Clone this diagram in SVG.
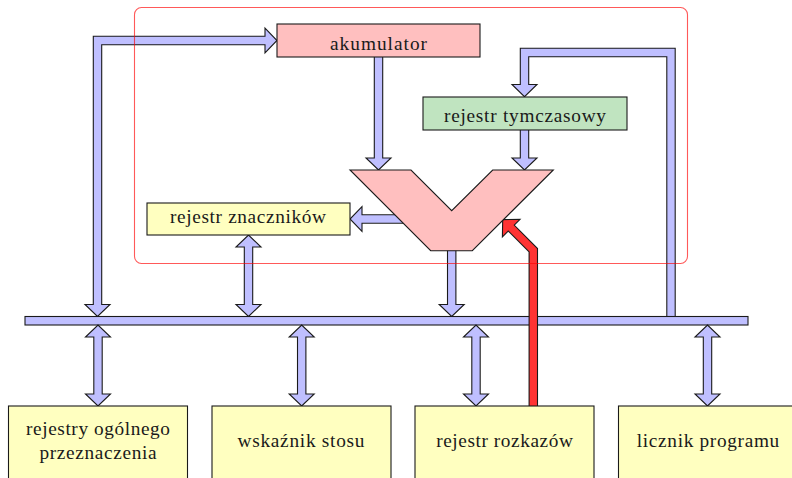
<svg xmlns="http://www.w3.org/2000/svg" width="792" height="478" viewBox="0 0 792 478">
<style>
.box{stroke:#1a1a1a;stroke-width:1.1}
.acc{fill:#ffbfbf}
.tmp{fill:#c0e4c0}
.yel{fill:#ffffc0}
.lbl{font-family:'Liberation Serif','Times New Roman',serif;font-size:19.3px;fill:#1a1a1a;text-anchor:middle}
.so{fill:none;stroke:#1a1a1a;stroke-width:9.5;stroke-linejoin:miter;stroke-linecap:butt}
.si{fill:none;stroke:#bfbfff;stroke-width:7.3;stroke-linejoin:miter;stroke-linecap:butt}
.sr{fill:none;stroke:#ff3333;stroke-width:7.3;stroke-linejoin:miter;stroke-linecap:butt}
.hd{fill:#bfbfff;stroke:#1a1a1a;stroke-width:1.1;stroke-linejoin:miter}
.hr{fill:#ff3333;stroke:#1a1a1a;stroke-width:1.1;stroke-linejoin:miter}
.frame{fill:none;stroke:#ff0000;stroke-opacity:0.65;stroke-width:1.1}
</style>

<g id="connectors">
  <path class="so" d="M97.5,304.5 V40.5 H265"/>
  <polygon class="hd" points="85,304.5 110,304.5 97.5,316.5"/>
  <polygon class="hd" points="265,28 265,53 277,40.5"/>
  <path class="si" d="M97.5,305.8 V40.5 H266.3"/>

  <path class="so" d="M378.5,57 V158"/>
  <polygon class="hd" points="366,158 391,158 378.5,170"/>
  <path class="si" d="M378.5,57 V159.3"/>

  <path class="so" d="M524.5,130 V158"/>
  <polygon class="hd" points="512,158 537,158 524.5,170"/>
  <path class="si" d="M524.5,130 V159.3"/>

  <path class="so" d="M671,317 V52.5 H524.5 V84.5"/>
  <polygon class="hd" points="512,84.5 537,84.5 524.5,96.7"/>
  <path class="si" d="M671,317 V52.5 H524.5 V85.8"/>

  <path class="so" d="M405,219 H362"/>
  <polygon class="hd" points="362,206.5 362,231.5 350,219"/>
  <path class="si" d="M405,219 H360.7"/>

  <path class="so" d="M248.5,247 V304.5"/>
  <polygon class="hd" points="236,247 261,247 248.5,235"/>
  <polygon class="hd" points="236,304.5 261,304.5 248.5,316.5"/>
  <path class="si" d="M248.5,245.7 V305.8"/>

  <path class="so" d="M451.7,250 V304.5"/>
  <polygon class="hd" points="439.2,304.5 464.2,304.5 451.7,316.5"/>
  <path class="si" d="M451.7,250 V305.8"/>

  <rect id="bus" x="25" y="316.5" width="723" height="8.5" fill="#bfbfff" stroke="#1a1a1a" stroke-width="1.1"/>

  <path class="so" d="M98,337 V394"/>
  <polygon class="hd" points="85.5,337 110.5,337 98,325"/>
  <polygon class="hd" points="85.5,394 110.5,394 98,406"/>
  <path class="si" d="M98,335.7 V395.3"/>

  <path class="so" d="M301.7,337 V394"/>
  <polygon class="hd" points="289.2,337 314.2,337 301.7,325"/>
  <polygon class="hd" points="289.2,394 314.2,394 301.7,406"/>
  <path class="si" d="M301.7,335.7 V395.3"/>

  <path class="so" d="M476,337 V394"/>
  <polygon class="hd" points="463.5,337 488.5,337 476,325"/>
  <polygon class="hd" points="463.5,394 488.5,394 476,406"/>
  <path class="si" d="M476,335.7 V395.3"/>

  <path class="so" d="M707.5,337 V394"/>
  <polygon class="hd" points="695,337 720,337 707.5,325"/>
  <polygon class="hd" points="695,394 720,394 707.5,406"/>
  <path class="si" d="M707.5,335.7 V395.3"/>

  <path class="so" d="M533.3,406 V250.2 L511.2,228.1"/>
  <polygon class="hr" points="520,219.3 502.4,236.9 502.7,219.6"/>
  <path class="sr" d="M533.3,406 V250.2 L510.3,227.2"/>
</g>

<g id="alu">
  <polygon points="350,170 411,170 451.7,210.7 492.7,170 553.3,170 472.3,250.7 430.7,250.7" fill="#ffbfbf" stroke="#1a1a1a" stroke-width="1.1" stroke-linejoin="miter"/>
</g>

<g id="akumulator">
  <rect class="box acc" x="277" y="24" width="203" height="33"/>
  <text class="lbl" x="378.5" y="49.5" textLength="97">akumulator</text>
</g>

<g id="rejestr-tymczasowy">
  <rect class="box tmp" x="423" y="97" width="204" height="33"/>
  <text class="lbl" x="525" y="121.8" textLength="162">rejestr tymczasowy</text>
</g>

<g id="rejestr-znacznikow">
  <rect class="box yel" x="147" y="203" width="203" height="32"/>
  <text class="lbl" x="248" y="222.8" textLength="156">rejestr znaczników</text>
</g>

<g id="rejestry-ogolnego">
  <rect class="box yel" x="8.5" y="406" width="179" height="90"/>
  <text class="lbl" x="98" y="435" textLength="144">rejestry ogólnego</text>
  <text class="lbl" x="98" y="458.5" textLength="117">przeznaczenia</text>
</g>

<g id="wskaznik-stosu">
  <rect class="box yel" x="212" y="406" width="179" height="90"/>
  <text class="lbl" x="301" y="447" textLength="127">wskaźnik stosu</text>
</g>

<g id="rejestr-rozkazow">
  <rect class="box yel" x="415" y="406" width="179" height="90"/>
  <text class="lbl" x="504.5" y="447" textLength="136.7">rejestr rozkazów</text>
</g>

<g id="licznik-programu">
  <rect class="box yel" x="618.5" y="406" width="179" height="90"/>
  <text class="lbl" x="708" y="447" textLength="142.5">licznik programu</text>
</g>

<g id="frame">
  <rect class="frame" x="134.5" y="7.5" width="553" height="256" rx="7" ry="7"/>
</g>
</svg>
